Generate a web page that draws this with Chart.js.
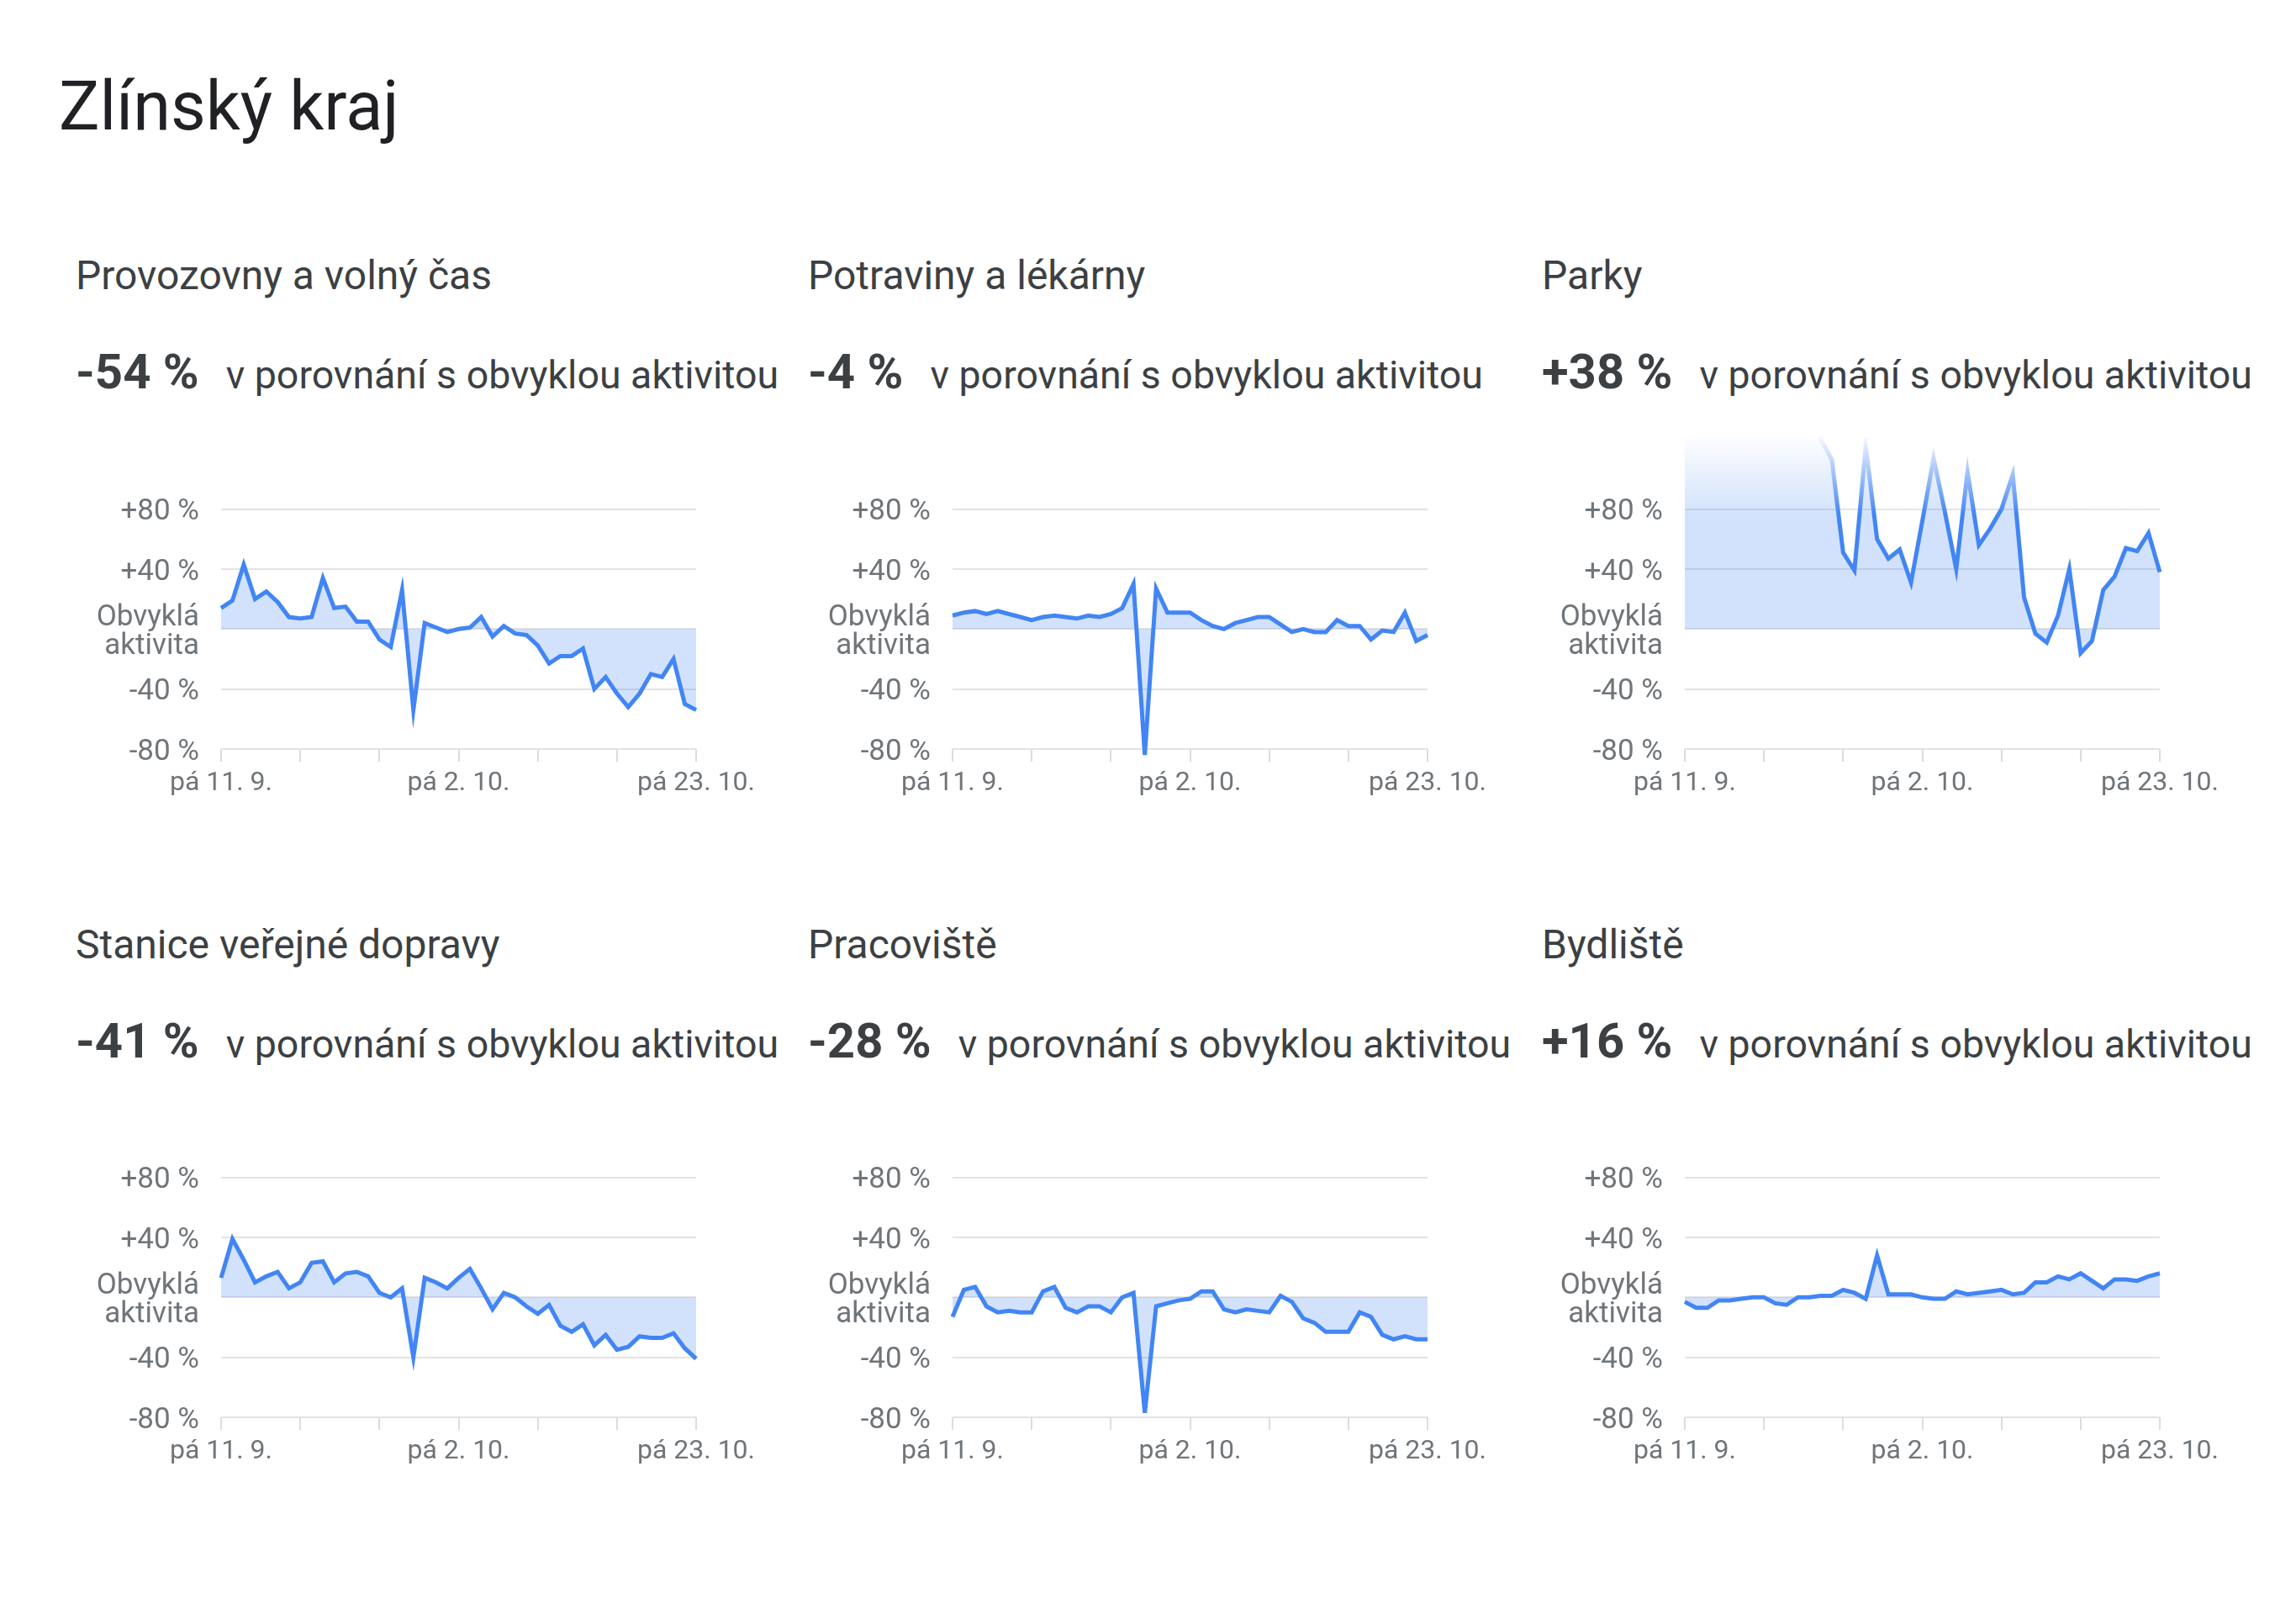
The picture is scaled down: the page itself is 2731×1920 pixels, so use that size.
<!DOCTYPE html>
<html lang="cs">
<head>
<meta charset="utf-8">
<title>Zlínský kraj</title>
<script src="https://cdn.jsdelivr.net/npm/chart.js@4.4.0/dist/chart.umd.min.js"></script>
<style>
    html, body { margin: 0; padding: 0; background: #fff; }
    body { width: 2731px; height: 1920px; position: relative; overflow: hidden;
           font-family: Roboto, 'Noto Sans', sans-serif; color: #3c4043; }
    .title { position: absolute; left: 70px; top: 86px; font-size: 81px; line-height: 1; color: #202124; }
    .panel-title { position: absolute; font-size: 48px; line-height: 1; white-space: nowrap; }
    .headline { position: absolute; font-size: 58px; line-height: 1; white-space: nowrap; }
    .headline b { font-weight: 700; }
    .headline span { font-size: 46.5px; margin-left: 32px; }
    canvas { position: absolute; }
</style>
</head>
<body>
<div class="title">Zlínský kraj</div>
<div id="panels"></div>
<script>
(function () {
    'use strict';

    var dayLabels = [
        'pá 11. 9.', 'so 12. 9.', 'ne 13. 9.', 'po 14. 9.', 'út 15. 9.', 'st 16. 9.', 'čt 17. 9.',
        'pá 18. 9.', 'so 19. 9.', 'ne 20. 9.', 'po 21. 9.', 'út 22. 9.', 'st 23. 9.', 'čt 24. 9.',
        'pá 25. 9.', 'so 26. 9.', 'ne 27. 9.', 'po 28. 9.', 'út 29. 9.', 'st 30. 9.', 'čt 1. 10.',
        'pá 2. 10.', 'so 3. 10.', 'ne 4. 10.', 'po 5. 10.', 'út 6. 10.', 'st 7. 10.', 'čt 8. 10.',
        'pá 9. 10.', 'so 10. 10.', 'ne 11. 10.', 'po 12. 10.', 'út 13. 10.', 'st 14. 10.', 'čt 15. 10.',
        'pá 16. 10.', 'so 17. 10.', 'ne 18. 10.', 'po 19. 10.', 'út 20. 10.', 'st 21. 10.', 'čt 22. 10.',
        'pá 23. 10.'
    ];
    var shownTicks = [0, 21, 42];

    var yTicks = [-80, -40, 0, 40, 80];
    var yTickLabels = ['-80 %', '-40 %', ['Obvyklá', 'aktivita'], '+40 %', '+80 %'];

    var categories = [
        'Provozovny a volný čas', 'Potraviny a lékárny', 'Parky',
        'Stanice veřejné dopravy', 'Pracoviště', 'Bydliště'
    ];
    var headlines = ['-54 %', '-4 %', '+38 %', '-41 %', '-28 %', '+16 %'];

    var retail = [14, 19, 43, 20, 25, 18, 8, 7, 8, 34, 14, 15, 5, 5, -7, -12, 26, -54, 4, 1, -2,
        0, 1, 8, -5, 2, -3, -4, -11, -23, -18, -18, -13, -40, -32, -43, -52, -43, -30, -32, -20, -50, -54];
    var grocery = [9, 11, 12, 10, 12, 10, 8, 6, 8, 9, 8, 7, 9, 8, 10, 14, 30, -84, 27, 11, 11,
        11, 6, 2, 0, 4, 6, 8, 8, 3, -2, 0, -2, -2, 6, 2, 2, -7, -1, -2, 11, -8, -4];
    var parks = [175, 190, 205, 170, 160, 180, 195, 210, 185, 170, 190, 200, 127, 113, 51, 39, 122, 60, 47, 53, 31,
        72, 114, 78, 40, 105, 56, 67, 80, 103, 21, -3, -9, 9, 40, -16, -8, 26, 35, 54, 52, 64, 38];
    var transit = [13, 39, 25, 10, 14, 17, 6, 10, 23, 24, 10, 16, 17, 14, 3, 0, 6, -40, 13, 10, 6,
        13, 19, 6, -8, 3, 0, -6, -11, -5, -19, -23, -18, -32, -25, -35, -33, -26, -27, -27, -24, -34, -41];
    var workplace = [-13, 5, 7, -6, -10, -9, -10, -10, 4, 7, -7, -10, -6, -6, -10, 0, 3, -77, -6, -4, -2,
        -1, 4, 4, -8, -10, -8, -9, -10, 1, -3, -14, -17, -23, -23, -23, -10, -13, -25, -28, -26, -28, -28];
    var residential = [-3, -7, -7, -2, -2, -1, 0, 0, -4, -5, 0, 0, 1, 1, 5, 3, -1, 28, 2, 2, 2,
        0, -1, -1, 4, 2, 3, 4, 5, 2, 3, 10, 10, 14, 12, 16, 11, 6, 12, 12, 11, 14, 16];

    var series = [retail, grocery, parks, transit, workplace, residential];

    // layout of the 3 x 2 grid
    var plotLeft = [263, 1133, 2004];
    var textLeft = [90, 961, 1834];
    var canvasTop = [470, 1265];
    var titleTop = [304, 1100];
    var headlineTop = [413, 1209];
    var axisWidth = 200;
    var padTop = 50;
    var canvasW = 854;
    var canvasH = 491;

    var gray = '#70757a';
    var xFont = { family: 'Roboto', size: 32 };
    var yFont = { family: 'Roboto', size: 35, lineHeight: 0.95 };

    // white fade over the top of the chart area (values above the visible range)
    var topFade = {
        id: 'topFade',
        afterDatasetsDraw: function (chart, args, opts) {
            if (!opts.enabled) return;
            var area = chart.chartArea;
            var ctx = chart.ctx;
            var yEnd = chart.scales.y.getPixelForValue(opts.until);
            var g = ctx.createLinearGradient(0, area.top, 0, yEnd);
            g.addColorStop(0, 'rgba(255,255,255,0.95)');
            g.addColorStop(1, 'rgba(255,255,255,0)');
            ctx.save();
            ctx.fillStyle = g;
            ctx.fillRect(area.left - 4, area.top - 2, area.right - area.left + 8, yEnd - area.top + 2);
            ctx.restore();
        }
    };

    var panels = document.getElementById('panels');

    categories.forEach(function (name, i) {
        var col = i % 3;
        var row = Math.floor(i / 3);

        var t = document.createElement('div');
        t.className = 'panel-title';
        t.style.left = textLeft[col] + 'px';
        t.style.top = titleTop[row] + 'px';
        t.textContent = name;
        panels.appendChild(t);

        var h = document.createElement('div');
        h.className = 'headline';
        h.style.left = textLeft[col] + 'px';
        h.style.top = headlineTop[row] + 'px';
        h.innerHTML = '<b>' + headlines[i] + '</b><span>v porovnání s obvyklou aktivitou</span>';
        panels.appendChild(h);

        var c = document.createElement('canvas');
        c.width = canvasW;
        c.height = canvasH;
        c.style.left = (plotLeft[col] - axisWidth) + 'px';
        c.style.top = canvasTop[row] + 'px';
        panels.appendChild(c);

        new Chart(c, {
            type: 'line',
            plugins: [topFade],
            data: {
                labels: dayLabels,
                datasets: [{
                    data: series[i],
                    borderColor: '#4285f4',
                    borderWidth: 5,
                    backgroundColor: 'rgba(66,133,244,0.24)',
                    fill: 'origin',
                    pointRadius: 0,
                    tension: 0,
                    clip: { left: 10, top: 0, right: 10, bottom: 30 }
                }]
            },
            options: {
                responsive: false,
                animation: false,
                events: [],
                layout: { padding: { top: padTop, right: canvasW - axisWidth - 565, bottom: 0, left: 0 } },
                plugins: {
                    legend: { display: false },
                    tooltip: { enabled: false },
                    topFade: { enabled: i === 2, until: 76 }
                },
                scales: {
                    x: {
                        grid: {
                            drawOnChartArea: false,
                            tickLength: 15,
                            lineWidth: 2,
                            color: function (ctx) {
                                return ctx.index % 7 === 0 ? '#dadce0' : 'rgba(0,0,0,0)';
                            }
                        },
                        border: { display: false },
                        ticks: {
                            autoSkip: false,
                            maxRotation: 0,
                            padding: 7,
                            color: gray,
                            font: xFont,
                            callback: function (v, idx) {
                                return shownTicks.indexOf(idx) >= 0 ? dayLabels[idx] : '';
                            }
                        },
                        afterFit: function (s) { s.height = 70; }
                    },
                    y: {
                        min: -80,
                        max: 128,
                        afterBuildTicks: function (s) {
                            s.ticks = yTicks.map(function (v) { return { value: v }; });
                        },
                        grid: { color: '#e3e3e3', lineWidth: 2, drawTicks: false },
                        border: { display: false },
                        ticks: {
                            padding: 26,
                            labelOffset: 4,
                            color: gray,
                            font: yFont,
                            callback: function (v) { return yTickLabels[yTicks.indexOf(v)]; }
                        },
                        afterFit: function (s) { s.width = axisWidth; }
                    }
                }
            }
        });
    });
}());
</script>
</body>
</html>
